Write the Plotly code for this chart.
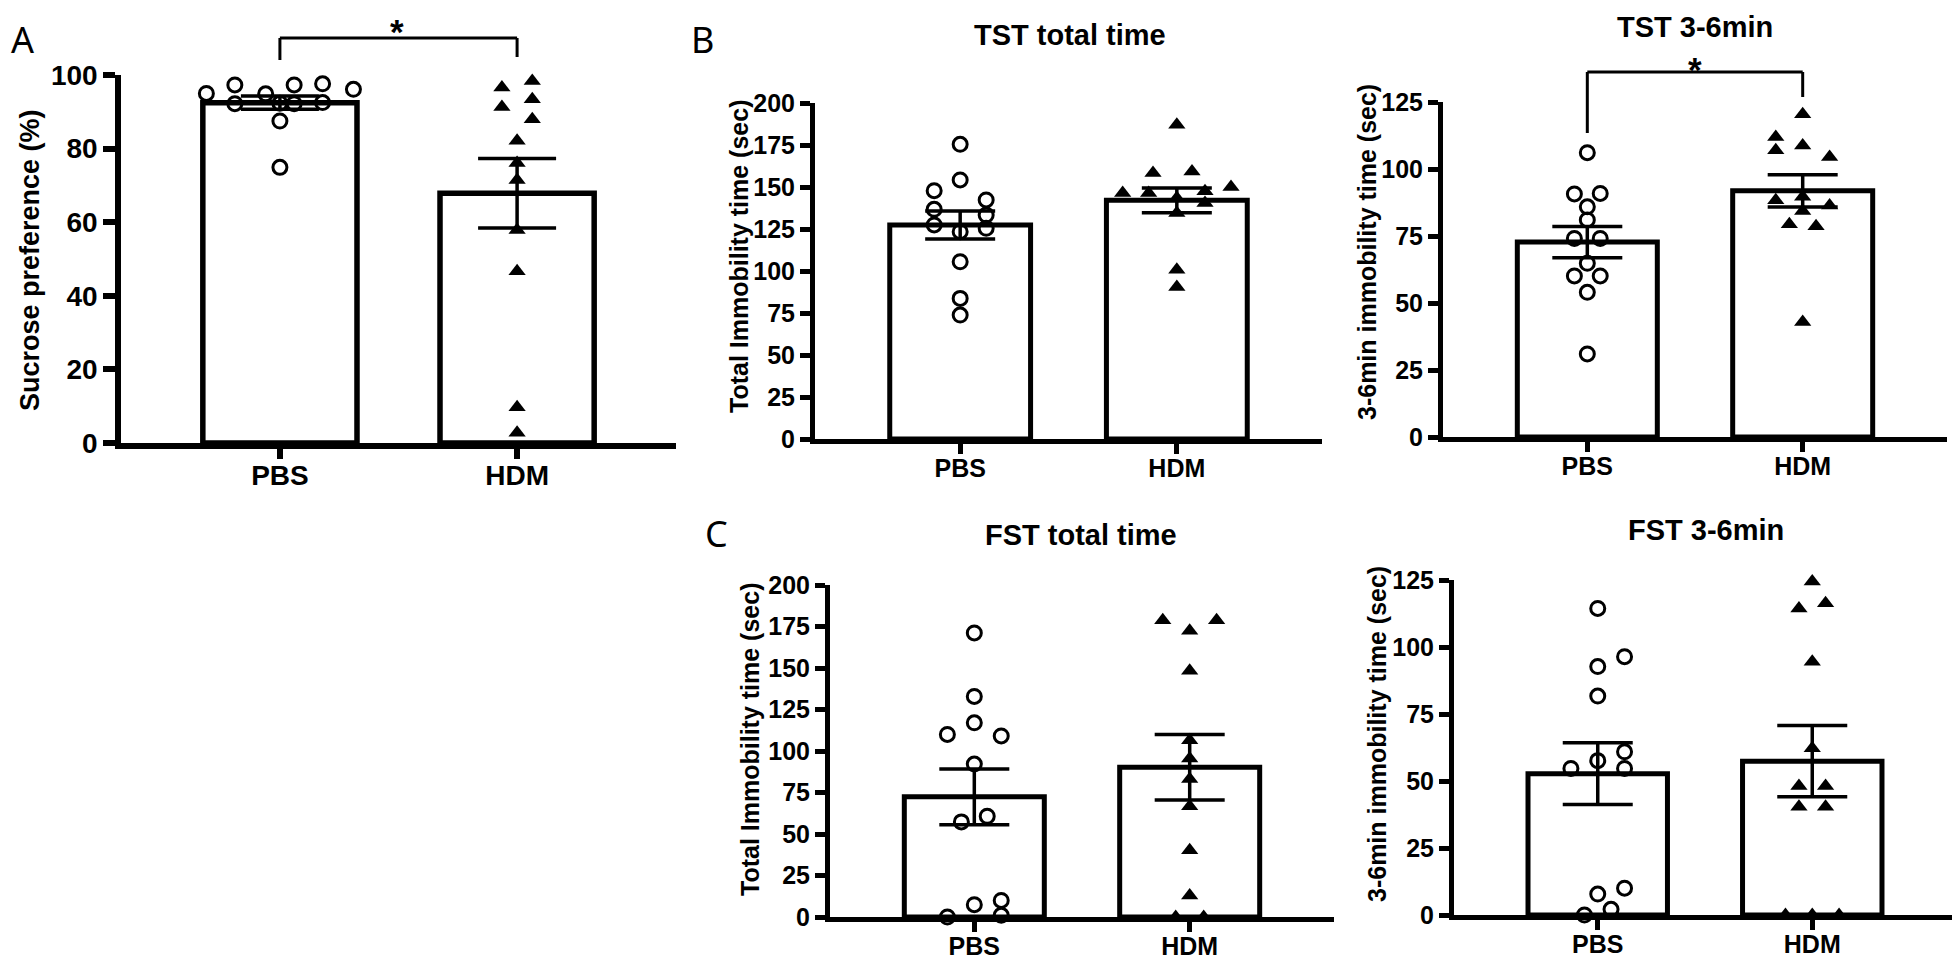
import numpy as np
import plotly.graph_objects as go

# ---- data ----
groups = ["PBS", "HDM"]

sucrose_pbs = [95.0, 97.3, 92.2, 94.9, 97.3, 92.2, 97.6, 92.5, 96.1, 87.5, 74.9, 92.3]
sucrose_hdm = [96.6, 91.3, 98.4, 93.4, 88.0, 82.1, 76.1, 71.5, 57.9, 46.7, 9.7, 2.8]

tst_total_pbs = [175.4, 154.2, 147.8, 136.7, 127.4, 142.3, 133.3, 125.4, 123.4, 105.5, 83.7, 73.8]
tst_total_hdm = [187.1, 158.3, 159.3, 146.4, 146.4, 147.4, 150.0, 143.5, 140.5, 134.5, 100.8, 90.5]

tst_36_pbs = [106.1, 90.7, 90.9, 85.9, 81.0, 74.1, 74.1, 64.8, 60.1, 60.1, 54.0, 31.0]
tst_36_hdm = [120.4, 111.9, 107.0, 108.8, 104.5, 88.3, 89.6, 86.4, 84.3, 79.4, 78.6, 42.9]

fst_total_pbs = [171.1, 132.9, 117.0, 110.0, 109.1, 92.1, 57.3, 60.7, 7.4, 10.0, 1.0, 0.0]
fst_total_hdm = [178.7, 178.7, 172.5, 148.3, 106.5, 95.5, 83.2, 66.7, 40.2, 12.9, 0.0, 0.0]

fst_36_pbs = [114.4, 96.4, 92.7, 81.7, 60.9, 57.6, 54.7, 54.7, 10.0, 7.8, 2.1, 0.0]
fst_36_hdm = [124.4, 114.4, 116.3, 94.5, 62.2, 48.1, 48.1, 40.4, 40.4, 0.0, 0.0, 0.0]

# horizontal scatter of the dots (in category units), same order as the values
jit_sucrose_pbs = [-0.31, -0.19, -0.19, -0.06, 0.06, 0.06, 0.18, 0.18, 0.31, 0, 0, 0]
jit_sucrose_hdm = [-0.064, -0.064, 0.064, 0.064, 0.064, 0, 0, 0, 0, 0, 0, 0]
jit_tst_total_pbs = [0, 0, -0.12, -0.12, -0.12, 0.12, 0.12, 0.12, 0, 0, 0, 0]
jit_tst_total_hdm = [0, -0.11, 0.07, -0.25, -0.13, 0.13, 0.25, 0, 0.13, 0, 0, 0]
jit_tst_36_pbs = [0, -0.06, 0.06, 0, 0, -0.06, 0.06, 0, -0.06, 0.06, 0, 0]
jit_tst_36_hdm = [0, -0.125, -0.125, 0, 0.125, -0.125, 0, 0.125, 0, -0.062, 0.062, 0]
jit_fst_total_pbs = [0, 0, 0, -0.125, 0.125, 0, -0.06, 0.06, 0, 0.125, 0.125, -0.125]
jit_fst_total_hdm = [-0.125, 0.125, 0, 0, 0, 0, 0, 0, 0, 0, -0.065, 0.065]
jit_fst_36_pbs = [0, 0.125, 0, 0, 0.125, 0, -0.125, 0.125, 0.125, 0, 0.062, -0.062]
jit_fst_36_hdm = [0, -0.062, 0.062, 0, 0, -0.062, 0.062, -0.062, 0.062, -0.125, 0, 0.125]

W, H = 1960, 958
OFF = 8  # the page body margin shifts the whole figure by this much


def px(x):
    return (x - OFF) / W


def py(y):
    return 1 - (y - OFF) / H


FONT = "Liberation Sans, Arial, sans-serif"

# panel layout in screen pixels: x-left, x-right, y of top value, y of zero
panels = [
    dict(data=(sucrose_pbs, sucrose_hdm), jit=(jit_sucrose_pbs, jit_sucrose_hdm),
         box=(121, 676, 75, 443), ymax=100, dtick=20, fs=28, lw=5.5, cap=39, tl=12,
         ytitle="Sucrose preference (%)", yt_pos=(30, 260), ytfs=27),
    dict(data=(tst_total_pbs, tst_total_hdm), jit=(jit_tst_total_pbs, jit_tst_total_hdm),
         box=(815, 1322, 103, 439), ymax=200, dtick=25, fs=25, lw=5, cap=35, tl=10,
         ytitle="Total Immobility time (sec)", yt_pos=(739, 257), ytfs=25),
    dict(data=(tst_36_pbs, tst_36_hdm), jit=(jit_tst_36_pbs, jit_tst_36_hdm),
         box=(1443, 1947, 102, 437), ymax=125, dtick=25, fs=25, lw=5, cap=35, tl=10,
         ytitle="3-6min immobility time (sec)", yt_pos=(1367, 252), ytfs=25),
    dict(data=(fst_total_pbs, fst_total_hdm), jit=(jit_fst_total_pbs, jit_fst_total_hdm),
         box=(830, 1334, 585, 917), ymax=200, dtick=25, fs=25, lw=5, cap=35, tl=10,
         ytitle="Total Immobility time (sec)", yt_pos=(750, 740), ytfs=25),
    dict(data=(fst_36_pbs, fst_36_hdm), jit=(jit_fst_36_pbs, jit_fst_36_hdm),
         box=(1454, 1956, 580, 915), ymax=125, dtick=25, fs=25, lw=5, cap=35, tl=10,
         ytitle="3-6min immobility time (sec)", yt_pos=(1377, 734), ytfs=25),
]

fig = go.Figure()
layout = {}
annotations = []
shapes = []

for i, p in enumerate(panels, start=1):
    xa, ya = ("x%d" % i), ("y%d" % i)
    pbs, hdm = p["data"]
    means = [np.mean(pbs), np.mean(hdm)]
    sems = [np.std(pbs, ddof=1) / np.sqrt(len(pbs)), np.std(hdm, ddof=1) / np.sqrt(len(hdm))]

    fig.add_trace(go.Bar(
        x=[0, 1], y=means, width=0.65, xaxis=xa, yaxis=ya,
        marker=dict(color="white", line=dict(color="black", width=p["lw"])),
        error_y=dict(type="data", array=sems, color="black", thickness=3.5, width=p["cap"]),
    ))
    fig.add_trace(go.Scatter(
        x=[0 + j for j in p["jit"][0]], y=pbs, mode="markers", xaxis=xa, yaxis=ya,
        cliponaxis=False,
        marker=dict(symbol="circle-open", size=14, color="black", line=dict(width=3, color="black")),
    ))
    fig.add_trace(go.Scatter(
        x=[1 + j for j in p["jit"][1]], y=hdm, mode="markers", xaxis=xa, yaxis=ya,
        cliponaxis=False,
        marker=dict(symbol="triangle-up", size=15, color="black"),
    ))

    x0, x1, ytop, ybot = p["box"]
    layout["xaxis%d" % i] = dict(
        domain=[px(x0), px(x1)], anchor=ya, range=[-0.67, 1.67], automargin=False,
        tickvals=[0, 1], ticktext=groups, showgrid=False, zeroline=False,
        showline=True, linecolor="black", linewidth=p["lw"],
        ticks="outside", ticklen=10, tickwidth=p["lw"], tickcolor="black",
        ticklabelstandoff=-7,
        tickfont=dict(family=FONT, size=p["fs"], color="black", weight="bold"),
    )
    layout["yaxis%d" % i] = dict(
        domain=[py(ybot), py(ytop)], anchor=xa, range=[0, p["ymax"]], automargin=False,
        dtick=p["dtick"], tick0=0, showgrid=False, zeroline=False,
        showline=True, linecolor="black", linewidth=p["lw"],
        ticks="outside", ticklen=p["tl"], tickwidth=p["lw"], tickcolor="black",
        tickfont=dict(family=FONT, size=p["fs"], color="black", weight="bold"),
    )
    annotations.append(dict(
        text=p["ytitle"], textangle=-90, xref="paper", yref="paper",
        x=px(p["yt_pos"][0]), y=py(p["yt_pos"][1]), showarrow=False,
        xanchor="center", yanchor="middle",
        font=dict(family=FONT, size=p["ytfs"], color="black", weight="bold"),
    ))

# panel titles
titles = [("TST total time", 1070, 35), ("TST 3-6min", 1695, 27),
          ("FST total time", 1081, 535), ("FST 3-6min", 1706, 530)]
for t, x, y in titles:
    annotations.append(dict(text=t, xref="paper", yref="paper", x=px(x), y=py(y),
                            showarrow=False, xanchor="center", yanchor="middle",
                            font=dict(family=FONT, size=29, color="black", weight="bold")))

# panel letters
for t, x, y in [("A", 22, 40), ("B", 702, 40), ("C", 716, 533)]:
    annotations.append(dict(text=t, xref="paper", yref="paper", x=px(x), y=py(y),
                            showarrow=False, xanchor="center", yanchor="middle",
                            font=dict(family="Noto Sans, sans-serif", size=36, color="black")))

# significance brackets (x in category units, y in screen pixels); star box top edge
brackets = [("x1", 38, 60, 57, 397, 10), ("x3", 72, 133, 97, 1695, 48)]
for xr, ytop, yleft, yright, sx, sy in brackets:
    for seg in [(0, yleft, 0, ytop), (0, ytop, 1, ytop), (1, ytop, 1, yright)]:
        shapes.append(dict(type="line", xref=xr, yref="paper",
                           x0=seg[0], y0=py(seg[1]), x1=seg[2], y1=py(seg[3]),
                           line=dict(color="black", width=3)))
    annotations.append(dict(text="*", xref="paper", yref="paper", x=px(sx), y=py(sy),
                            showarrow=False, xanchor="center", yanchor="top",
                            font=dict(family=FONT, size=35, color="black", weight="bold")))

fig.update_layout(
    width=W, height=H, margin=dict(l=0, r=0, t=0, b=0, autoexpand=False),
    paper_bgcolor="white", plot_bgcolor="white", showlegend=False,
    annotations=annotations, shapes=shapes, **layout,
)

fig.write_html("out.html")
